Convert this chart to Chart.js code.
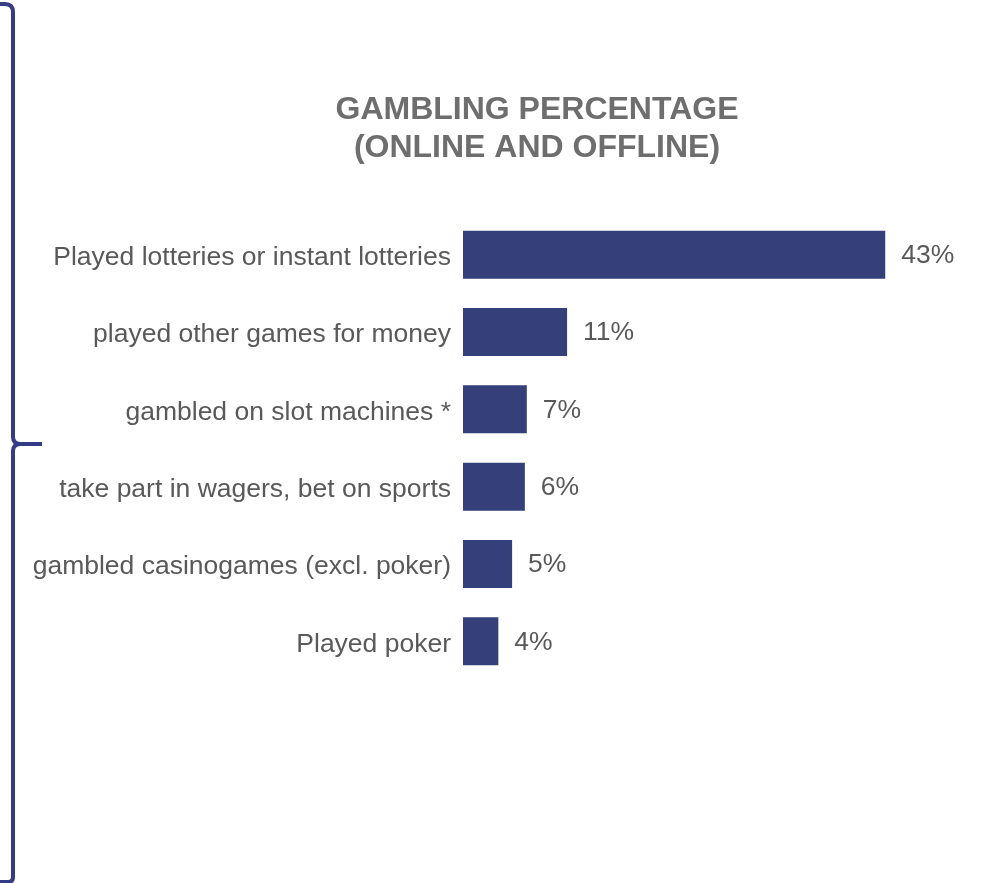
<!DOCTYPE html>
<html>
<head>
<meta charset="utf-8">
<script src="https://cdn.jsdelivr.net/npm/chart.js@4/dist/chart.umd.min.js"></script>
<style>
html,body{margin:0;padding:0;background:#fff;}
#wrap{width:999px;height:883px;position:relative;}
</style>
</head>
<body>
<div id="wrap"><canvas id="c" width="999" height="883"></canvas></div>
<script>
const categories = [
  "Played lotteries or instant lotteries",
  "played other games for money",
  "gambled on slot machines *",
  "take part in wagers, bet on sports",
  "gambled casinogames (excl. poker)",
  "Played poker"
];
const values = [43, 10.6, 6.5, 6.3, 5.0, 3.6];
const valueLabels = ["43%", "11%", "7%", "6%", "5%", "4%"];
const titleLines = ["GAMBLING PERCENTAGE", "(ONLINE AND OFFLINE)"];

const BAR = '#353f7a';
const TXT = '#595959';
const FONT = '"Liberation Sans", Arial, sans-serif';

const bracePlugin = {
  id: 'brace',
  afterDraw(chart) {
    const ctx = chart.ctx;
    ctx.save();
    ctx.strokeStyle = '#333d85';
    ctx.lineWidth = 4;
    ctx.lineCap = 'butt';
    ctx.beginPath();
    ctx.moveTo(0, 4);
    ctx.lineTo(5, 4);
    ctx.quadraticCurveTo(13, 4, 13, 12);
    ctx.lineTo(13, 437);
    ctx.quadraticCurveTo(13, 444, 21, 444);
    ctx.lineTo(42, 444);
    ctx.moveTo(21, 444);
    ctx.quadraticCurveTo(13, 444, 13, 451);
    ctx.lineTo(13, 877);
    ctx.quadraticCurveTo(13, 882, 8, 882);
    ctx.lineTo(0, 882);
    ctx.stroke();
    ctx.restore();
  }
};

const titlePlugin = {
  id: 'customTitle',
  afterDraw(chart) {
    const ctx = chart.ctx;
    ctx.save();
    ctx.font = 'bold 32px ' + FONT;
    ctx.fillStyle = '#6e6e6e';
    ctx.textAlign = 'center';
    ctx.textBaseline = 'middle';
    titleLines.forEach((t, i) => ctx.fillText(t, 537, 110 + i * 38.4));
    ctx.restore();
  }
};

const valueLabelPlugin = {
  id: 'valueLabels',
  afterDatasetsDraw(chart) {
    const ctx = chart.ctx;
    const meta = chart.getDatasetMeta(0);
    ctx.save();
    ctx.font = '26.5px ' + FONT;
    ctx.fillStyle = TXT;
    ctx.textAlign = 'left';
    ctx.textBaseline = 'middle';
    meta.data.forEach((bar, i) => {
      ctx.fillText(valueLabels[i], bar.x + 16, bar.y + 1);
    });
    ctx.restore();
  }
};

new Chart(document.getElementById('c'), {
  type: 'bar',
  data: {
    labels: categories,
    datasets: [{
      data: values,
      backgroundColor: BAR,
      borderWidth: 0,
      barPercentage: 0.62,
      categoryPercentage: 1.0
    }]
  },
  options: {
    indexAxis: 'y',
    responsive: false,
    animation: false,
    devicePixelRatio: 1,
    layout: { padding: { left: 0, right: 45, top: 216, bottom: 203 } },
    plugins: {
      legend: { display: false },
      tooltip: { enabled: false },
      title: { display: false }
    },
    scales: {
      x: {
        display: false,
        min: 0,
        max: 50
      },
      y: {
        grid: { display: false, drawTicks: false },
        border: { display: false },
        ticks: {
          color: TXT,
          padding: 12,
          labelOffset: 3,
          font: { family: FONT, size: 26.5 }
        },
        afterFit(scale) { scale.width = 463; }
      }
    }
  },
  plugins: [bracePlugin, titlePlugin, valueLabelPlugin]
});
</script>
</body>
</html>
